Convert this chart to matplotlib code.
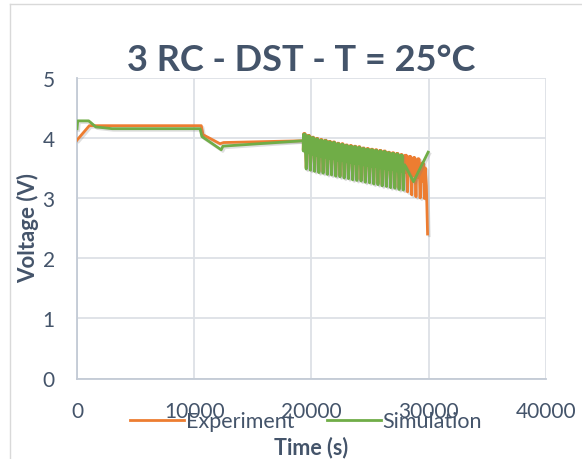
import matplotlib
matplotlib.use("Agg")
import matplotlib.pyplot as plt
import matplotlib.patheffects as pe
from matplotlib.lines import Line2D

# ---- data ----
# rest / charge part before the DST cycles (time s, voltage V)
exp_pre_t = [0, 1050, 10600, 10750, 12200, 12500, 19300]
exp_pre_v = [3.96, 4.20, 4.20, 4.05, 3.90, 3.92, 3.95]
sim_pre_t = [0, 60, 1000, 1600, 3000, 10500, 10650, 12300, 12450, 19300]
sim_pre_v = [4.15, 4.28, 4.28, 4.18, 4.15, 4.15, 4.02, 3.80, 3.86, 3.95]

# DST cycles: start time of every cycle, then top / band / bottom voltage of each cycle
exp_dst_t = [19300, 19660, 20020, 20380, 20740, 21100, 21460, 21820, 22180, 22540,
             22900, 23260, 23620, 23980, 24340, 24700, 25060, 25420, 25780, 26140,
             26500, 26860, 27220, 27580, 27940, 28300, 28660, 29020, 29380]
exp_top = [4.07, 4.04, 4.01, 3.99, 3.97, 3.96, 3.94, 3.93, 3.91, 3.90,
           3.88, 3.87, 3.86, 3.85, 3.83, 3.82, 3.81, 3.80, 3.79, 3.78,
           3.76, 3.75, 3.74, 3.72, 3.71, 3.69, 3.67, 3.65, 3.58]
exp_band = [3.80, 3.77, 3.75, 3.73, 3.71, 3.70, 3.68, 3.67, 3.65, 3.64,
            3.62, 3.61, 3.60, 3.58, 3.57, 3.56, 3.54, 3.53, 3.52, 3.50,
            3.49, 3.48, 3.46, 3.45, 3.43, 3.41, 3.38, 3.34, 3.28]
exp_bot = [3.50, 3.48, 3.46, 3.44, 3.43, 3.41, 3.40, 3.38, 3.37, 3.35,
           3.34, 3.32, 3.31, 3.30, 3.28, 3.27, 3.25, 3.24, 3.22, 3.21,
           3.19, 3.18, 3.16, 3.15, 3.10, 3.05, 3.02, 3.00, 2.99]
exp_end_t = [29700, 29800, 29900]
exp_end_v = [3.50, 3.20, 2.40]

sim_dst_t = [19300, 19660, 20020, 20380, 20740, 21100, 21460, 21820, 22180, 22540,
             22900, 23260, 23620, 23980, 24340, 24700, 25060, 25420, 25780, 26140,
             26500, 26860, 27220, 27580]
sim_top = [4.06, 4.03, 4.00, 3.98, 3.96, 3.95, 3.93, 3.92, 3.90, 3.89,
           3.87, 3.86, 3.85, 3.84, 3.82, 3.81, 3.80, 3.79, 3.78, 3.77,
           3.75, 3.74, 3.73, 3.71]
sim_band = [3.78, 3.75, 3.73, 3.71, 3.69, 3.68, 3.66, 3.65, 3.63, 3.62,
            3.60, 3.59, 3.58, 3.57, 3.55, 3.54, 3.53, 3.52, 3.50, 3.49,
            3.48, 3.47, 3.45, 3.44]
sim_bot = [3.48, 3.46, 3.44, 3.42, 3.41, 3.39, 3.38, 3.36, 3.35, 3.33,
           3.32, 3.30, 3.29, 3.28, 3.26, 3.25, 3.23, 3.22, 3.20, 3.19,
           3.17, 3.16, 3.14, 3.13]
sim_end_t = [27950, 28700, 29950]
sim_end_v = [3.55, 3.27, 3.76]

x_ticks = [0, 10000, 20000, 30000, 40000]
y_ticks = [0, 1, 2, 3, 4, 5]

# ---- build the profiles ----
def dst_profile(starts, tops, bands, bots):
	# one DST cycle: regen peaks around the band, then the deep discharge spike
	ts, vs = [], []
	for t0, hi, mid, lo in zip(starts, tops, bands, bots):
		ts += [t0, t0 + 45, t0 + 95, t0 + 145, t0 + 195, t0 + 250, t0 + 300]
		vs += [mid, hi, mid, hi, mid, lo, mid]
	return ts, vs

et, ev = dst_profile(exp_dst_t, exp_top, exp_band, exp_bot)
st, sv = dst_profile(sim_dst_t, sim_top, sim_band, sim_bot)
exp_t = exp_pre_t + et + exp_end_t
exp_v = exp_pre_v + ev + exp_end_v
sim_t = sim_pre_t + st + sim_end_t
sim_v = sim_pre_v + sv + sim_end_v

text_col = "#44546A"
plt.rcParams["font.family"] = ["Lato", "DejaVu Sans"]

fig = plt.figure(figsize=(5.82, 4.60), dpi=100)
ax = fig.add_axes([0.1323, 0.175, 0.8058, 0.6543])

shadow = [pe.SimpleLineShadow(offset=(1.2, -1.2), alpha=0.25, shadow_color="gray"), pe.Normal()]
ax.plot(exp_t, exp_v, color="#ED7D31", lw=2.0, path_effects=shadow, zorder=3)
ax.plot(sim_t, sim_v, color="#70AD47", lw=2.0, path_effects=shadow, zorder=4)

ax.set_xlim(0, 40000)
ax.set_ylim(0, 5)
ax.set_xticks(x_ticks)
ax.set_yticks(y_ticks)
ax.grid(True, color="#DDE1E6", lw=1.3)
ax.set_axisbelow(True)
for s in ax.spines.values():
	s.set_visible(False)
for side in ["left", "bottom"]:
	ax.spines[side].set_visible(True)
	ax.spines[side].set_color("#C3CAD5")
	ax.spines[side].set_linewidth(1.3)
ax.xaxis.set_tick_params(length=0, labelsize=15, labelcolor=text_col, pad=16)
ax.yaxis.set_tick_params(length=0, labelsize=15, labelcolor=text_col, pad=16)

fig.text(0.517, 0.8465, "3 RC - DST - T = 25°C", ha="center", va="baseline",
	fontsize=26, fontweight="bold", color=text_col)
fig.text(0.534, 0.028, "Time (s)", ha="center", va="center", fontsize=15.5, fontweight="bold", color=text_col)
fig.text(0.048, 0.504, "Voltage (V)", ha="center", va="center", rotation=90,
	fontsize=16, fontweight="bold", color=text_col)

handles = [Line2D([], [], color="#ED7D31", lw=2), Line2D([], [], color="#70AD47", lw=2)]
leg = fig.legend(handles, ["Experiment", "Simulation"], loc="center", bbox_to_anchor=(0.526, 0.082),
	ncol=2, frameon=False, fontsize=15.5, handlelength=2.5, handletextpad=0.1, columnspacing=1.5)
for t in leg.get_texts():
	t.set_color(text_col)

# chart area border (partly visible in the crop)
fig.add_artist(Line2D([10 / 582, 10 / 582], [0, 1 - 5 / 460], transform=fig.transFigure, color="#D9D9D9", lw=1))
fig.add_artist(Line2D([10 / 582, 1], [1 - 5 / 460, 1 - 5 / 460], transform=fig.transFigure, color="#D9D9D9", lw=1))

fig.savefig("out.png", dpi=100)
